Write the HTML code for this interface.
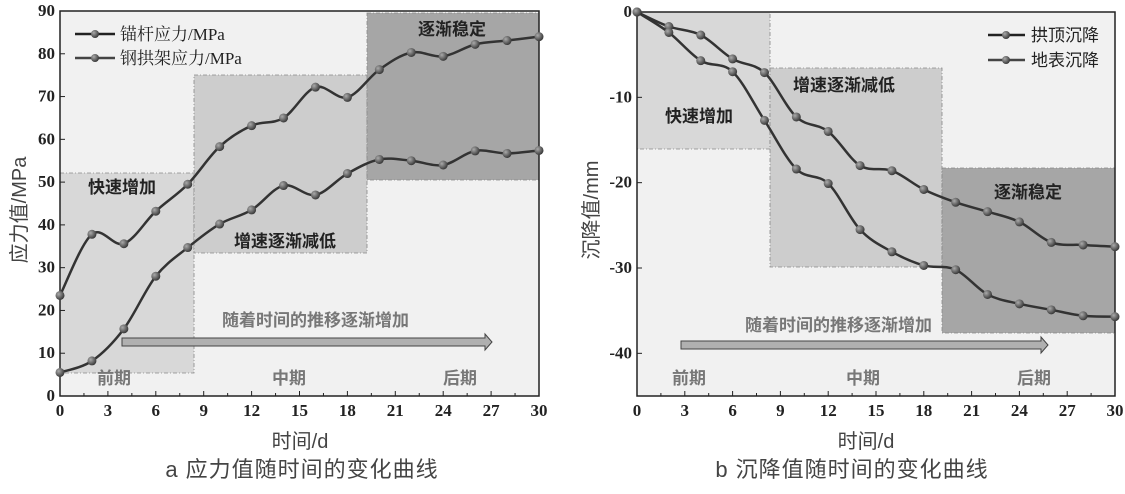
<!DOCTYPE html>
<html><head><meta charset="utf-8"><style>
body{margin:0;background:#fff;width:1125px;height:489px;overflow:hidden}
svg text{font-family:"Liberation Serif","Noto Serif CJK SC",serif}
.cn{font-family:"Liberation Sans","Noto Sans CJK SC",sans-serif}
.b{font-weight:bold;font-family:"Liberation Sans","Noto Sans CJK SC",sans-serif}
</style></head><body>
<svg id="s" width="1125" height="489" viewBox="0 0 1125 489" xmlns="http://www.w3.org/2000/svg">
<defs>
<radialGradient id="m" cx="35%" cy="35%" r="70%"><stop offset="0" stop-color="#aaa"/><stop offset="1" stop-color="#333"/></radialGradient>
</defs>
<rect x="60" y="11" width="479" height="385" fill="#f1f1f1"/>
<rect x="60" y="173" width="134" height="200" fill="#d8d8d8" stroke="#888" stroke-dasharray="4,2,1,2" stroke-width="0.8"/>
<rect x="194" y="75" width="173" height="178" fill="#cdcdcd" stroke="#888" stroke-dasharray="4,2,1,2" stroke-width="0.8"/>
<rect x="367" y="13" width="172" height="167" fill="#a6a6a6" stroke="#888" stroke-dasharray="4,2,1,2" stroke-width="0.8"/>
<rect x="60" y="11" width="479" height="385" fill="none" stroke="#222" stroke-width="1.5"/>
<g id="gl"></g>
<text x="88" y="193" class="b" font-size="17" fill="#222">快速增加</text>
<text x="234" y="247" class="b" font-size="17" fill="#222">增速逐渐减低</text>
<text x="418" y="35" class="b" font-size="17" fill="#222">逐渐稳定</text>
<text x="222" y="326" class="b" font-size="17" fill="#777">随着时间的推移逐渐增加</text>
<text x="97" y="384" class="b" font-size="17" fill="#777">前期</text>
<text x="272" y="384" class="b" font-size="17" fill="#777">中期</text>
<text x="443" y="384" class="b" font-size="17" fill="#777">后期</text>
<polygon points="122,338 485,338 485,334 492,342 485,350 485,346 122,346" fill="#b0b0b0" stroke="#444" stroke-width="1"/>
<line x1="75" y1="34" x2="115" y2="34" stroke="#222" stroke-width="2.5"/><circle cx="95" cy="34" r="4" fill="url(#m)"/>
<line x1="75" y1="58" x2="115" y2="58" stroke="#444" stroke-width="2.5"/><circle cx="95" cy="58" r="4" fill="url(#m)"/>
<text x="120" y="40" font-size="17" fill="#222">锚杆应力/MPa</text>
<text x="120" y="64" font-size="17" fill="#222">钢拱架应力/MPa</text>
<text x="300" y="448" text-anchor="middle" class="cn" font-size="20" fill="#444">时间/d</text>
<text transform="translate(26,210) rotate(-90)" text-anchor="middle" class="cn" font-size="20" fill="#444">应力值/MPa</text>
<text x="302" y="477" text-anchor="middle" class="cn" font-size="22" fill="#444" letter-spacing="1">a  应力值随时间的变化曲线</text>
<rect x="637" y="12" width="478" height="384" fill="#f1f1f1"/>
<rect x="637" y="12" width="133" height="137" fill="#d8d8d8" stroke="#888" stroke-dasharray="4,2,1,2" stroke-width="0.8"/>
<rect x="770" y="68" width="172" height="199" fill="#cdcdcd" stroke="#888" stroke-dasharray="4,2,1,2" stroke-width="0.8"/>
<rect x="942" y="168" width="173" height="165" fill="#a6a6a6" stroke="#888" stroke-dasharray="4,2,1,2" stroke-width="0.8"/>
<rect x="637" y="12" width="478" height="384" fill="none" stroke="#222" stroke-width="1.5"/>
<g id="gr"></g>
<text x="665" y="122" class="b" font-size="17" fill="#222">快速增加</text>
<text x="793" y="91" class="b" font-size="17" fill="#222">增速逐渐减低</text>
<text x="994" y="198" class="b" font-size="17" fill="#222">逐渐稳定</text>
<text x="745" y="331" class="b" font-size="17" fill="#777">随着时间的推移逐渐增加</text>
<text x="672" y="384" class="b" font-size="17" fill="#777">前期</text>
<text x="846" y="384" class="b" font-size="17" fill="#777">中期</text>
<text x="1017" y="384" class="b" font-size="17" fill="#777">后期</text>
<polygon points="681,341 1041,341 1041,337 1048,345 1041,353 1041,349 681,349" fill="#b0b0b0" stroke="#444" stroke-width="1"/>
<line x1="988" y1="35" x2="1025" y2="35" stroke="#222" stroke-width="2.5"/><circle cx="1006" cy="35" r="4" fill="url(#m)"/>
<line x1="988" y1="60" x2="1025" y2="60" stroke="#444" stroke-width="2.5"/><circle cx="1006" cy="60" r="4" fill="url(#m)"/>
<text x="1031" y="41" class="cn" font-size="17" fill="#222">拱顶沉降</text>
<text x="1031" y="66" class="cn" font-size="17" fill="#222">地表沉降</text>
<text x="866" y="448" text-anchor="middle" class="cn" font-size="20" fill="#444">时间/d</text>
<text transform="translate(598,210) rotate(-90)" text-anchor="middle" class="cn" font-size="20" fill="#444">沉降值/mm</text>
<text x="852" y="477" text-anchor="middle" class="cn" font-size="22" fill="#444" letter-spacing="1">b  沉降值随时间的变化曲线</text>
</svg>
<script>
var NS="http://www.w3.org/2000/svg";
function el(p,t,a,txt){var e=document.createElementNS(NS,t);for(var k in a)e.setAttribute(k,a[k]);if(txt!=null)e.textContent=txt;p.appendChild(e);return e;}
function smooth(P){var d="M"+P[0][0]+","+P[0][1];for(var i=0;i<P.length-1;i++){var p0=P[i-1]||P[i],p1=P[i],p2=P[i+1],p3=P[i+2]||p2;var c1=[p1[0]+(p2[0]-p0[0])/6,p1[1]+(p2[1]-p0[1])/6],c2=[p2[0]-(p3[0]-p1[0])/6,p2[1]-(p3[1]-p1[1])/6];d+=" C"+c1+" "+c2+" "+p2;}return d;}
function chart(g,x0,x1,yt,yb,vt,vb,ticks,series){
 var sx=function(d){return x0+(x1-x0)*d/30},sy=function(v){return yt+(yb-yt)*(vt-v)/(vt-vb)};
 for(var d=0;d<=30;d+=1.5){var X=sx(d);el(g,"line",{x1:X,y1:yb,x2:X,y2:yb-(d%3==0?5:3),stroke:"#222"});if(d%3==0)el(g,"text",{x:X,y:yb+20,"text-anchor":"middle","font-size":17,"font-weight":"bold",fill:"#222"},String(d));}
 ticks.forEach(function(v){var Y=sy(v);el(g,"line",{x1:x0,y1:Y,x2:x0+5,y2:Y,stroke:"#222"});el(g,"text",{x:x0-5,y:Y+5,"text-anchor":"end","font-size":17,"font-weight":"bold",fill:"#222"},String(v));});
 series.forEach(function(s){var P=s.map(function(v,i){return [sx(i*2),sy(v)]});el(g,"path",{d:smooth(P),fill:"none",stroke:"#333","stroke-width":2.5});P.forEach(function(p){el(g,"circle",{cx:p[0],cy:p[1],r:4.5,fill:"url(#m)"});});});
}
chart(document.getElementById("gl"),60,539,11,396,90,0,[0,10,20,30,40,50,60,70,80,90],[
[5.5,8.2,15.7,28,34.7,40.2,43.5,49.2,47,52,55.3,55,54,57.3,56.7,57.4],
[23.5,37.8,35.6,43.2,49.5,58.3,63.2,65,72.2,69.8,76.3,80.3,79.4,82.2,83.1,84]]);
chart(document.getElementById("gr"),637,1115,12,396,0,-45,[0,-10,-20,-30,-40],[
[0,-1.7,-2.7,-5.5,-7.1,-12.3,-14,-18,-18.6,-20.8,-22.3,-23.4,-24.6,-27,-27.3,-27.5],
[0,-2.4,-5.7,-7,-12.7,-18.4,-20.1,-25.5,-28.1,-29.7,-30.2,-33.1,-34.2,-34.9,-35.6,-35.7]]);
</script>
</body></html>
